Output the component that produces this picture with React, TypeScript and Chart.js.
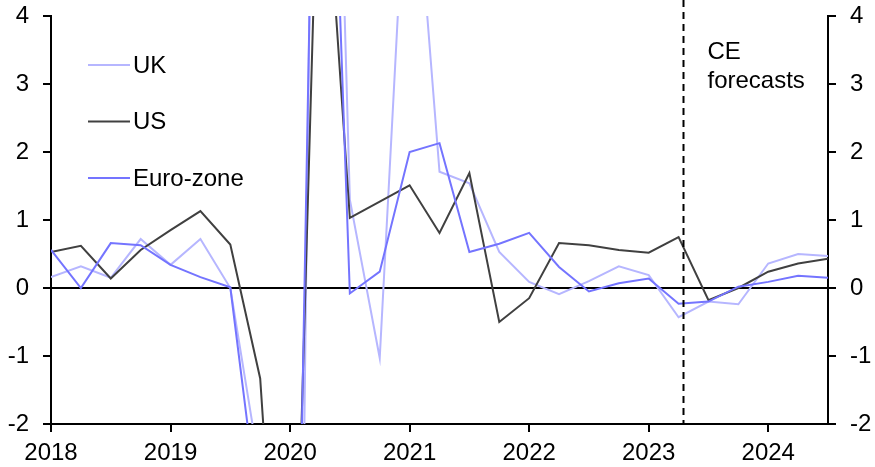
import React, { useEffect, useRef } from "react";
import { Chart, registerables } from "chart.js";

Chart.register(...registerables);

// Quarterly positions (fractional years)
const xValues = [
  2018, 2018.25, 2018.5, 2018.75,
  2019, 2019.25, 2019.5, 2019.75,
  2020, 2020.25, 2020.5, 2020.75,
  2021, 2021.25, 2021.5, 2021.75,
  2022, 2022.25, 2022.5, 2022.75,
  2023, 2023.25, 2023.5, 2023.75,
  2024, 2024.25, 2024.5,
];

const ukValues = [
  0.16, 0.32, 0.15, 0.72, 0.34, 0.72, 0.0, -2.7, -19.4, 16.9, 1.3, -1.03, 7.3, 1.71,
  1.54, 0.53, 0.09, -0.09, 0.1, 0.32, 0.19, -0.43, -0.2, -0.24, 0.36, 0.5, 0.47,
];

const usValues = [
  0.53, 0.62, 0.14, 0.56, 0.85, 1.13, 0.64, -1.33, -7.9, 7.5, 1.03, 1.27, 1.51, 0.81,
  1.69, -0.5, -0.15, 0.66, 0.63, 0.56, 0.52, 0.75, -0.18, 0.0, 0.24, 0.36, 0.43,
];

const euroValues = [
  0.56, 0.0, 0.66, 0.63, 0.34, 0.16, 0.01, -3.5, -11.6, 12.5, -0.08, 0.24, 2.0, 2.13,
  0.53, 0.65, 0.81, 0.31, -0.05, 0.07, 0.14, -0.23, -0.2, 0.02, 0.09, 0.18, 0.15,
];

const yearTicks = [2018, 2019, 2020, 2021, 2022, 2023, 2024];
const yTicks = [-2, -1, 0, 1, 2, 3, 4];
const forecastStart = 2023.29;

const seriesNames = ["UK", "US", "Euro-zone"];
const seriesColors = ["#b6b6ff", "#404040", "#7474ff"];
const forecastLabel = ["CE", "forecasts"];

const FONT = '"Liberation Sans", Arial, sans-serif';

export default function App() {
  const canvasRef = useRef<HTMLCanvasElement | null>(null);

  useEffect(() => {
    if (!canvasRef.current) return;
    const toPts = (vals: number[]) => vals.map((v, i) => ({ x: xValues[i], y: v }));

    const overlay = {
      id: "overlay",
      afterDraw(chart: any) {
        const { ctx, chartArea, scales } = chart;
        ctx.save();
        // dashed forecast line
        const fx = Math.round(scales.x.getPixelForValue(forecastStart)) + 0.5;
        ctx.strokeStyle = "#000";
        ctx.lineWidth = 2;
        ctx.setLineDash([7, 5]);
        ctx.beginPath();
        ctx.moveTo(fx, 0);
        ctx.lineTo(fx, chartArea.bottom);
        ctx.stroke();
        ctx.setLineDash([]);

        // forecast label
        ctx.fillStyle = "#000";
        ctx.font = `24px ${FONT}`;
        ctx.textAlign = "left";
        ctx.textBaseline = "middle";
        forecastLabel.forEach((t, i) => {
          ctx.fillText(t, fx + 24, chartArea.top + 36 + i * 29);
        });

        // legend
        const lx = chartArea.left + 37;
        seriesNames.forEach((name, i) => {
          const y = chartArea.top + 49 + i * 56.5;
          ctx.strokeStyle = seriesColors[i];
          ctx.lineWidth = 2;
          ctx.beginPath();
          ctx.moveTo(lx, y);
          ctx.lineTo(lx + 42, y);
          ctx.stroke();
          ctx.fillStyle = "#000";
          ctx.fillText(name, lx + 45, y + 1);
        });
        ctx.restore();
      },
    };

    const tickFont = { family: FONT, size: 24 };
    const fitY = (w: number) => (s: any) => {
      s.width = w;
      s.paddingTop = 0;
      s.paddingBottom = 0;
    };

    const chart = new Chart(canvasRef.current, {
      type: "line",
      data: {
        datasets: [
          { label: seriesNames[0], data: toPts(ukValues), borderColor: seriesColors[0], borderWidth: 2, pointRadius: 0, order: 3 },
          { label: seriesNames[1], data: toPts(usValues), borderColor: seriesColors[1], borderWidth: 2, pointRadius: 0, order: 2 },
          { label: seriesNames[2], data: toPts(euroValues), borderColor: seriesColors[2], borderWidth: 2, pointRadius: 0, order: 1 },
        ],
      },
      options: {
        responsive: false,
        animation: false,
        layout: { padding: { top: 16, left: 0, right: 0, bottom: 0 } },
        plugins: { legend: { display: false }, tooltip: { enabled: false } },
        elements: { line: { tension: 0 } },
        scales: {
          x: {
            type: "linear",
            min: 2018,
            max: 2024.5,
            afterBuildTicks: (s: any) => {
              s.ticks = yearTicks.map((v) => ({ value: v }));
            },
            afterFit: (s: any) => {
              s.height = 43;
              s.paddingLeft = 0;
              s.paddingRight = 0;
            },
            grid: { drawOnChartArea: false, tickLength: 8, tickColor: "#000", lineWidth: 2 },
            border: { display: true, color: "#000", width: 2 },
            ticks: { color: "#000", font: tickFont, padding: 7, maxRotation: 0, autoSkip: false, callback: (v: any) => String(v) },
          },
          y: {
            type: "linear",
            position: "left",
            min: -2,
            max: 4,
            afterBuildTicks: (s: any) => {
              s.ticks = yTicks.map((v) => ({ value: v }));
            },
            afterFit: fitY(51),
            grid: {
              color: (c: any) => (c.tick && c.tick.value === 0 ? "#000" : "rgba(0,0,0,0)"),
              tickColor: "#000",
              tickLength: 8,
              lineWidth: 2,
            },
            border: { display: true, color: "#000", width: 2 },
            ticks: { color: "#000", font: tickFont, padding: 14 },
          },
          y2: {
            type: "linear",
            position: "right",
            min: -2,
            max: 4,
            afterBuildTicks: (s: any) => {
              s.ticks = yTicks.map((v) => ({ value: v }));
            },
            afterFit: fitY(47),
            grid: { drawOnChartArea: false, tickColor: "#000", tickLength: 8, lineWidth: 2 },
            border: { display: true, color: "#000", width: 2 },
            ticks: { color: "#000", font: tickFont, padding: 14 },
          },
        },
      },
      plugins: [overlay],
    } as any);

    return () => chart.destroy();
  }, []);

  return (
    <div style={{ position: "absolute", left: 0, top: 0, width: 875, height: 467, background: "#fff" }}>
      <canvas ref={canvasRef} width={875} height={467} style={{ display: "block" }} />
    </div>
  );
}
